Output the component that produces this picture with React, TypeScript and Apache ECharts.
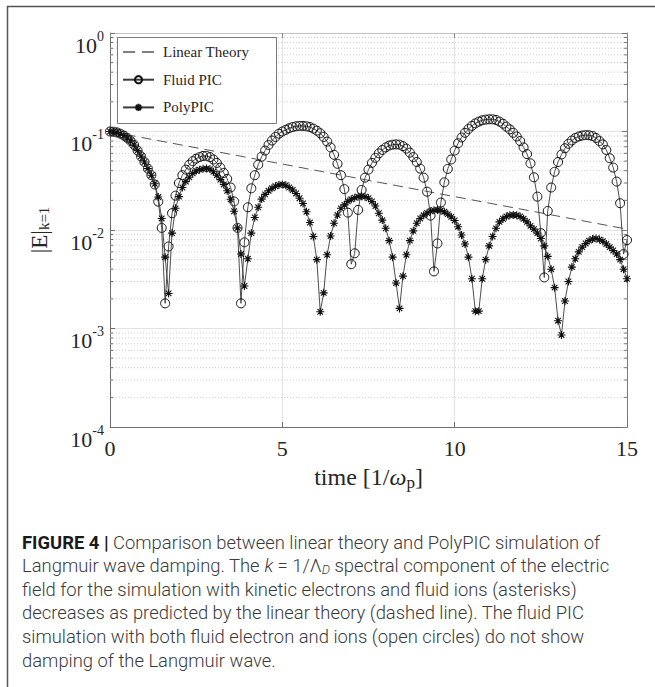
import React, { useEffect, useRef } from 'react';
import * as echarts from 'echarts';

// ---- data ----
const DT = 0.1; // sampling step of the time axis [1/omega_p]

const FLUID_PIC = [
  0.100, 0.0995, 0.098, 0.095, 0.091, 0.086, 0.080, 0.073, 0.064, 0.056,
  0.049, 0.042, 0.036, 0.029, 0.0194, 0.0105, 0.0018, 0.0068, 0.0148, 0.0223,
  0.030, 0.036, 0.041, 0.046, 0.050, 0.053, 0.055, 0.0565, 0.0565, 0.055,
  0.052, 0.048, 0.043, 0.038, 0.033, 0.027, 0.0195, 0.0105, 0.0018, 0.0075,
  0.017, 0.0265, 0.036, 0.046, 0.0555, 0.064, 0.073, 0.081, 0.088, 0.095,
  0.100, 0.104, 0.108, 0.111, 0.113, 0.114, 0.114, 0.113, 0.111, 0.107,
  0.102, 0.096, 0.088, 0.079, 0.069, 0.058, 0.047, 0.036, 0.026, 0.015,
  0.0045, 0.0058, 0.016, 0.0255, 0.034, 0.041, 0.048, 0.054, 0.060, 0.065,
  0.069, 0.072, 0.0735, 0.074, 0.0735, 0.071, 0.067, 0.061, 0.055, 0.049,
  0.042, 0.034, 0.0245, 0.014, 0.0038, 0.0073, 0.019, 0.0305, 0.0417, 0.052,
  0.064, 0.076, 0.087, 0.097, 0.106, 0.114, 0.121, 0.126, 0.130, 0.132,
  0.133, 0.133, 0.131, 0.126, 0.120, 0.112, 0.105, 0.097, 0.089, 0.080,
  0.069, 0.059, 0.0475, 0.0343, 0.0218, 0.0093, 0.0033, 0.0156, 0.027, 0.039,
  0.049, 0.0585, 0.0676, 0.075, 0.081, 0.086, 0.089, 0.091, 0.092, 0.0915,
  0.090, 0.086, 0.080, 0.074, 0.065, 0.0535, 0.043, 0.031, 0.0187, 0.0057,
  0.0079,
];

const POLY_PIC = [
  0.100, 0.0995, 0.098, 0.095, 0.091, 0.086, 0.080, 0.073, 0.064, 0.056,
  0.049, 0.042, 0.036, 0.0295, 0.0216, 0.0131, 0.0053, 0.00227, 0.0093, 0.0166,
  0.0218, 0.027, 0.031, 0.0343, 0.0376, 0.0399, 0.041, 0.0418, 0.042, 0.0415,
  0.039, 0.036, 0.0325, 0.029, 0.025, 0.0205, 0.0155, 0.0105, 0.0057, 0.0027,
  0.0051, 0.0093, 0.0134, 0.017, 0.0206, 0.023, 0.025, 0.0265, 0.0278, 0.0287,
  0.029, 0.0285, 0.027, 0.0255, 0.0235, 0.021, 0.0186, 0.0153, 0.0119, 0.0086,
  0.0050, 0.00148, 0.0023, 0.0056, 0.0087, 0.0117, 0.0142, 0.0166, 0.018, 0.0195,
  0.0205, 0.0213, 0.0218, 0.022, 0.0218, 0.021, 0.0195, 0.0175, 0.0148, 0.0126,
  0.0104, 0.0078, 0.0053, 0.0029, 0.0016, 0.0034, 0.0056, 0.0078, 0.0098, 0.0117,
  0.0131, 0.0141, 0.0149, 0.0155, 0.0159, 0.016, 0.0158, 0.0153, 0.0145, 0.0136,
  0.0125, 0.0108, 0.0089, 0.0072, 0.0053, 0.0032, 0.0015, 0.0015, 0.0032, 0.005,
  0.0069, 0.0086, 0.0104, 0.0121, 0.013, 0.0137, 0.0141, 0.0142, 0.0141, 0.0137,
  0.013, 0.0121, 0.011, 0.0102, 0.0093, 0.0082, 0.0069, 0.0054, 0.004, 0.0026,
  0.0012, 0.00086, 0.0019, 0.0030, 0.0042, 0.0051, 0.0060, 0.0067, 0.0073, 0.0078,
  0.0081, 0.0082, 0.0080, 0.0077, 0.0072, 0.0067, 0.0062, 0.0057, 0.0050, 0.0040,
  0.0032,
];

const LINEAR_T = [0, 15];
const LINEAR_V = [0.1, 0.0102];

const X_MIN = 0;
const X_MAX = 15;
const X_INTERVAL = 5;
const Y_MIN = 1e-4;
const Y_MAX = 1;

const Y_MINOR = [
  0.0002, 0.0003, 0.0004, 0.0005, 0.0006, 0.0007, 0.0008, 0.0009,
  0.002, 0.003, 0.004, 0.005, 0.006, 0.007, 0.008, 0.009,
  0.02, 0.03, 0.04, 0.05, 0.06, 0.07, 0.08, 0.09,
  0.2, 0.3, 0.4, 0.5, 0.6, 0.7, 0.8, 0.9,
];

const SERIES_NAMES = ['Linear Theory', 'Fluid PIC', 'PolyPIC'];

const CAPTION = [
  '{b|FIGURE 4 |} Comparison between linear theory and PolyPIC simulation of',
  'Langmuir wave damping. The {i|k} = 1/Λ{d|D} spectral component of the electric',
  'field for the simulation with kinetic electrons and fluid ions (asterisks)',
  'decreases as predicted by the linear theory (dashed line). The fluid PIC',
  'simulation with both fluid electron and ions (open circles) do not show',
  'damping of the Langmuir wave.',
];

const SERIF = 'Liberation Serif';
const SANS = 'Roboto';
const TXT = '#262626';
const ASTERISK =
  'path://M5,0L5,10M0,5L10,5M1.5,1.5L8.5,8.5M1.5,8.5L8.5,1.5';
const DASH_ICON = 'path://M0,0H11V1.3H0ZM17,0H28V1.3H17Z';

export default function App() {
  const ref = useRef<HTMLDivElement>(null);

  useEffect(() => {
    document.body.style.margin = '0';
    if (!ref.current) return;
    const chart = echarts.init(ref.current, null, { renderer: 'svg' });
    const time = FLUID_PIC.map((_, i) => Math.round(i * DT * 10) / 10);

    const captionEls = CAPTION.map((line, i) => ({
      type: 'text',
      x: 22,
      y: 542 + i * 23.6,
      z: 0,
      silent: true,
      style: {
        text: line,
        fontFamily: SANS,
        fontSize: 18.4,
        fontWeight: 300,
        fill: '#3a3a3a',
        verticalAlign: 'middle',
        rich: {
          b: { fontFamily: SANS, fontSize: 18.4, fontWeight: 'bold', fill: '#1a1a1a' },
          i: { fontFamily: SANS, fontSize: 18.4, fontStyle: 'italic', fontWeight: 300, fill: '#3a3a3a' },
          d: {
            fontFamily: SANS, fontSize: 13, fontStyle: 'italic', fontWeight: 300, fill: '#3a3a3a',
            lineHeight: 13, padding: [8, 0, 0, 0],
          },
        },
      },
    }));

    const option: any = {
      animation: false,
      backgroundColor: '#fff',
      grid: { left: 110, top: 33, width: 517, height: 394, containLabel: false },
      legend: {
        data: [
          { name: SERIES_NAMES[0], icon: DASH_ICON },
          { name: SERIES_NAMES[1] },
          { name: SERIES_NAMES[2] },
        ],
        orient: 'vertical',
        left: 122,
        top: 44,
        padding: 0,
        itemWidth: 31,
        itemHeight: 9,
        itemGap: 11.7,
        selectedMode: false,
        z: 5,
        textStyle: {
          fontFamily: SERIF,
          fontSize: 15,
          lineHeight: 16,
          color: TXT,
          padding: [0, 0, 0, 4],
        },
      },
      xAxis: [
        {
          type: 'value',
          min: X_MIN,
          max: X_MAX,
          interval: X_INTERVAL,
          position: 'bottom',
          name: '{n|time [1/}{w|ω}{p|p}{n|]}',
          nameLocation: 'middle',
          nameGap: 29,
          nameTextStyle: {
            rich: {
              n: { fontFamily: SERIF, fontSize: 24, lineHeight: 24, color: TXT },
              w: { fontFamily: SERIF, fontSize: 24, lineHeight: 24, fontStyle: 'italic', color: TXT },
              p: { fontFamily: SERIF, fontSize: 17, lineHeight: 17, padding: [10, 0, 0, 0], color: TXT },
            },
          },
          axisLine: { show: true, onZero: false, lineStyle: { color: '#6e6e6e', width: 1 } },
          axisTick: { show: true, inside: true, length: 5, lineStyle: { color: '#6e6e6e' } },
          axisLabel: { fontFamily: SERIF, fontSize: 22, color: TXT, margin: 10 },
          splitLine: { show: true, lineStyle: { color: '#e4e4e4', width: 1 } },
        },
        {
          type: 'value',
          min: X_MIN,
          max: X_MAX,
          interval: X_INTERVAL,
          position: 'top',
          axisLine: { show: true, onZero: false, lineStyle: { color: '#c4c4c4', width: 1 } },
          axisTick: { show: true, inside: true, length: 5, lineStyle: { color: '#8a8a8a' } },
          axisLabel: { show: false },
          splitLine: { show: false },
        },
      ],
      yAxis: [
        {
          type: 'log',
          logBase: 10,
          min: Y_MIN,
          max: Y_MAX,
          splitNumber: 4,
          position: 'left',
          name: '{n||E|}{k|k=1}',
          nameLocation: 'middle',
          nameRotate: 90,
          nameGap: 59,
          nameTextStyle: {
            rich: {
              n: { fontFamily: SERIF, fontSize: 23, lineHeight: 23, color: TXT },
              k: { fontFamily: SERIF, fontSize: 15, lineHeight: 15, padding: [9, 0, 0, 0], color: TXT },
            },
          },
          axisLine: { show: true, onZero: false, lineStyle: { color: '#6e6e6e', width: 1 } },
          axisTick: { show: true, inside: true, length: 5, lineStyle: { color: '#6e6e6e' } },
          axisLabel: {
            margin: 6,
            formatter: (v: number) => `{b|10}{s|${Math.round(Math.log10(v))}}`,
            rich: {
              b: { fontFamily: SERIF, fontSize: 22, lineHeight: 22, padding: [12, 0, 0, 0], verticalAlign: 'top', color: TXT },
              s: { fontFamily: SERIF, fontSize: 14, lineHeight: 14, padding: [7, 0, 0, 0], verticalAlign: 'top', color: TXT },
            },
          },
          splitLine: { show: true, lineStyle: { color: '#e4e4e4', width: 1 } },
        },
        {
          type: 'log',
          logBase: 10,
          min: Y_MIN,
          max: Y_MAX,
          splitNumber: 4,
          position: 'right',
          axisLine: { show: true, onZero: false, lineStyle: { color: '#7a7a7a', width: 1 } },
          axisTick: { show: true, inside: true, length: 5, lineStyle: { color: '#7a7a7a' } },
          axisLabel: { show: false },
          splitLine: { show: false },
        },
      ],
      graphic: [
        {
          type: 'polyline',
          z: 0,
          silent: true,
          shape: { points: [[7.5, 687], [7.5, 6.5], [655, 6.5]] },
          style: { stroke: '#555', lineWidth: 1.5, fill: 'none' },
        },
        {
          type: 'rect',
          z: 4,
          silent: true,
          shape: { x: 117.5, y: 37.5, width: 159, height: 86 },
          style: { fill: '#fff', stroke: '#7a7a7a', lineWidth: 1 },
        },
        ...captionEls,
      ],
      series: [
        {
          type: 'custom',
          name: 'minor',
          silent: true,
          z: 1,
          clip: false,
          data: Y_MINOR.map((v) => [X_MIN, v]),
          renderItem: (params: any, api: any) => {
            const p = api.coord([X_MIN, api.value(1)]);
            const cs = params.coordSys;
            const x0 = cs.x;
            const x1 = cs.x + cs.width;
            const y = p[1];
            return {
              type: 'group',
              children: [
                { type: 'line', shape: { x1: x0, y1: y, x2: x1, y2: y }, style: { stroke: '#cdcdcd', lineWidth: 1, lineDash: [1, 2] } },
                { type: 'line', shape: { x1: x0, y1: y, x2: x0 + 3, y2: y }, style: { stroke: '#6e6e6e', lineWidth: 1 } },
                { type: 'line', shape: { x1: x1 - 3, y1: y, x2: x1, y2: y }, style: { stroke: '#7a7a7a', lineWidth: 1 } },
              ],
            };
          },
        },
        {
          name: SERIES_NAMES[0],
          type: 'line',
          data: LINEAR_T.map((t, i) => [t, LINEAR_V[i]]),
          symbol: 'none',
          silent: true,
          z: 2,
          clip: false,
          lineStyle: { color: '#555', width: 1, type: [10, 6] },
          itemStyle: { color: '#555' },
        },
        {
          name: SERIES_NAMES[1],
          type: 'line',
          data: time.map((t, i) => [t, FLUID_PIC[i]]),
          symbol: 'circle',
          symbolSize: 9,
          silent: true,
          z: 2,
          clip: false,
          lineStyle: { color: '#3a3a3a', width: 0.9 },
          itemStyle: { color: 'rgba(255,255,255,0)', borderColor: '#111', borderWidth: 1 },
        },
        {
          name: SERIES_NAMES[2],
          type: 'line',
          data: time.map((t, i) => [t, POLY_PIC[i]]),
          symbol: ASTERISK,
          symbolSize: 8,
          silent: true,
          z: 3,
          clip: false,
          lineStyle: { color: '#3a3a3a', width: 0.9 },
          itemStyle: { color: '#111', borderColor: '#111', borderWidth: 1.1 },
        },
      ],
    };

    chart.setOption(option);
    return () => chart.dispose();
  }, []);

  return <div ref={ref} style={{ width: 655, height: 687 }} />;
}
